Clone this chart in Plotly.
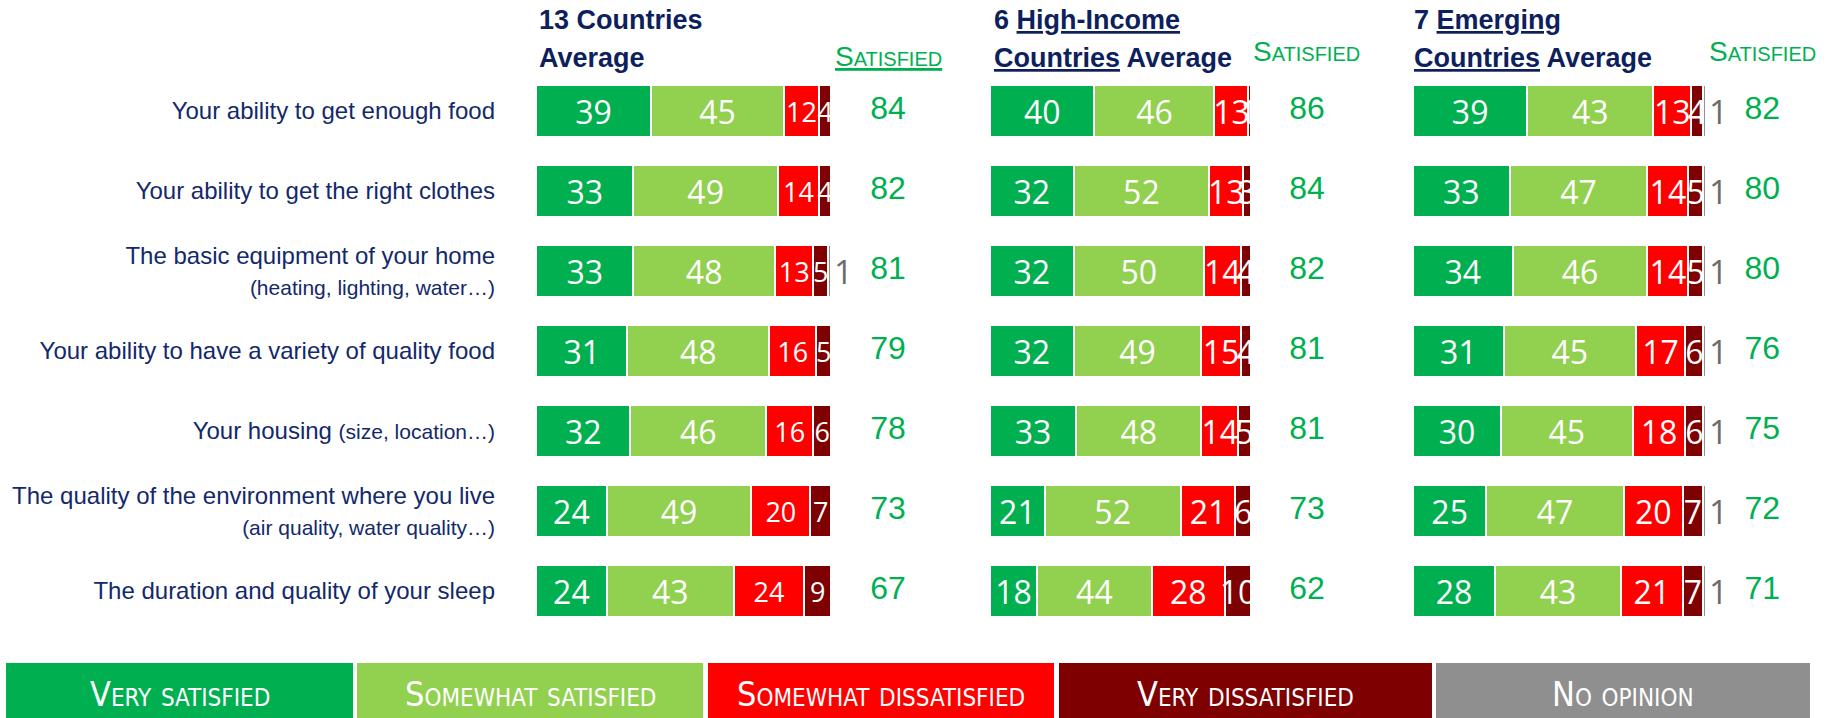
import plotly.graph_objects as go

# ---------------- data ----------------
row_keys = ["food", "clothes", "equipment", "variety", "housing", "environment", "sleep"]
row_labels = [
    "Your ability to get enough food",
    "Your ability to get the right clothes",
    "The basic equipment of your home<br><span style='font-size:21px'>(heating, lighting, water…)</span>",
    "Your ability to have a variety of quality food",
    "Your housing <span style='font-size:21px'>(size, location…)</span>",
    "The quality of the environment where you live<br><span style='font-size:21px'>(air quality, water quality…)</span>",
    "The duration and quality of your sleep",
]
segment_names = ["Very satisfied", "Somewhat satisfied", "Somewhat dissatisfied",
                 "Very dissatisfied", "No opinion"]

all13_very = [39, 33, 33, 31, 32, 24, 24]
all13_some = [45, 49, 48, 48, 46, 49, 43]
all13_somedis = [12, 14, 13, 16, 16, 20, 24]
all13_verydis = [4, 4, 5, 5, 6, 7, 9]
all13_noop = [0, 0, 1, 0, 0, 0, 0]
all13_sat = [84, 82, 81, 79, 78, 73, 67]

high_very = [40, 32, 32, 32, 33, 21, 18]
high_some = [46, 52, 50, 49, 48, 52, 44]
high_somedis = [13, 13, 14, 15, 14, 21, 28]
high_verydis = [1, 3, 4, 4, 5, 6, 10]
high_noop = [0, 0, 0, 0, 0, 0, 0]
high_sat = [86, 84, 82, 81, 81, 73, 62]

emg_very = [39, 33, 34, 31, 30, 25, 28]
emg_some = [43, 47, 46, 45, 45, 47, 43]
emg_somedis = [13, 14, 14, 17, 18, 20, 21]
emg_verydis = [4, 5, 5, 6, 6, 7, 7]
emg_noop = [1, 1, 1, 1, 1, 1, 1]
emg_sat = [82, 80, 80, 76, 75, 72, 71]

# ---------------- styles ----------------
COLORS = ["#00B050", "#92D050", "#FF0000", "#7F0000", "#8F8F8F"]
GREEN = "#00B050"
NAVY = "#13296A"
HEAD = "#0D1F5C"
W, H = 1831, 718
NUMFONT = "Open Sans"
LBLFONT = "Liberation Sans"
NARROW = "Liberation Sans Narrow, DejaVu Sans Condensed, Liberation Sans"

panels = [
    dict(series=[all13_very, all13_some, all13_somedis, all13_verydis, all13_noop],
         sat=all13_sat, x0=536, ppu=2.95, satx=119.3, small=[32, 32, 27, 27]),
    dict(series=[high_very, high_some, high_somedis, high_verydis, high_noop],
         sat=high_sat, x0=990, ppu=2.61, satx=121.5, small=[32, 32, 32, 32]),
    dict(series=[emg_very, emg_some, emg_somedis, emg_verydis, emg_noop],
         sat=emg_sat, x0=1413, ppu=2.93, satx=119.2, small=[32, 32, 32, 32]),
]
XMAX = 125

fig = go.Figure()
for i, p in enumerate(panels):
    xa = "x" if i == 0 else f"x{i + 1}"
    for k, vals in enumerate(p["series"]):
        txt = [str(v) if v > 0 else "" for v in vals]
        if k < 4:
            tpos = "inside"
            tfont = dict(color="white", size=p["small"][k], family=NUMFONT)
        else:
            tpos = "outside"
            tfont = dict(color="#6B6B6B", size=33, family=NUMFONT)
        fig.add_trace(go.Bar(
            y=row_keys, x=vals, orientation="h", name=segment_names[k],
            xaxis=xa, yaxis="y",
            marker=dict(color=COLORS[k], line=dict(color="white", width=2)),
            text=txt, textposition=tpos, textangle=0, constraintext="none",
            insidetextanchor="middle", textfont=tfont, cliponaxis=False,
            showlegend=False, hoverinfo="skip",
        ))
    fig.add_trace(go.Scatter(
        y=row_keys, x=[p["satx"]] * len(row_keys), mode="text",
        text=[str(v) for v in p["sat"]],
        textfont=dict(color=GREEN, size=32, family=LBLFONT),
        xaxis=xa, yaxis="y", cliponaxis=False, showlegend=False, hoverinfo="skip",
    ))

top_px, bot_px = 71, 631
layout = dict(
    width=W, height=H, margin=dict(l=0, r=0, t=0, b=0, autoexpand=False),
    barmode="stack", bargap=0.35,
    plot_bgcolor="white", paper_bgcolor="white", showlegend=False,
    yaxis=dict(domain=[(H - bot_px) / H, (H - top_px) / H], autorange="reversed",
               tickmode="array", tickvals=row_keys, ticktext=row_labels,
               showgrid=False, zeroline=False, showline=False, ticks="",
               ticklabelstandoff=40,
               tickfont=dict(family=LBLFONT, size=24, color=NAVY)),
)
for i, p in enumerate(panels):
    key = "xaxis" if i == 0 else f"xaxis{i + 1}"
    x1 = p["x0"] + p["ppu"] * XMAX
    layout[key] = dict(domain=[p["x0"] / W, x1 / W], range=[0, XMAX], visible=False,
                       anchor="y")
fig.update_layout(**layout)

def px_x(x):
    return x / W

def px_y(y):
    return 1 - y / H

ann = []
HFONT = dict(family="Liberation Sans", size=27, color=HEAD, weight="bold")
headers = [
    (537, ["13 Countries", "Average"]),
    (992, ["6 <u>High-Income</u>", "<u>Countries</u> Average"]),
    (1412, ["7 <u>Emerging</u>", "<u>Countries</u> Average"]),
]
for x, lines in headers:
    for j, line in enumerate(lines):
        ann.append(dict(x=px_x(x), y=px_y(20 + j * 38), xref="paper", yref="paper",
                        text=line, showarrow=False, xanchor="left", yanchor="middle",
                        font=HFONT))
sat_heads = [(888, 56, "<u>Satisfied</u>"), (1306, 51, "Satisfied"), (1762, 51, "Satisfied")]
for x, y, t in sat_heads:
    ann.append(dict(x=px_x(x), y=px_y(y), xref="paper", yref="paper", text=t,
                    showarrow=False, xanchor="center", yanchor="middle",
                    font=dict(family=LBLFONT, size=28, color=GREEN, variant="small-caps")))

# legend boxes
legend_boxes = [(6, 353), (357, 703), (708, 1054), (1059, 1432), (1436, 1810)]
shapes = []
for k, (a, b) in enumerate(legend_boxes):
    shapes.append(dict(type="rect", xref="paper", yref="paper",
                       x0=px_x(a), x1=px_x(b), y0=px_y(718), y1=px_y(663),
                       fillcolor=COLORS[k], line=dict(width=0), layer="below"))
    ann.append(dict(x=px_x((a + b) / 2), y=px_y(694), xref="paper", yref="paper",
                    text=segment_names[k], showarrow=False, xanchor="center",
                    yanchor="middle",
                    font=dict(family=NARROW, size=34, color="white", variant="small-caps")))
fig.update_layout(annotations=ann, shapes=shapes)

fig.write_html("out.html", config={"displayModeBar": False},
               post_script="document.body.style.margin='0';")
